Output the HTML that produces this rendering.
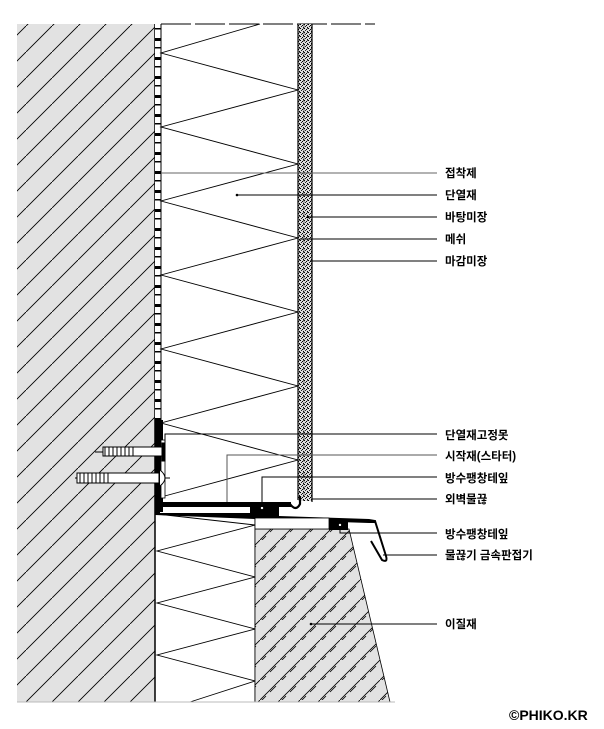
<!DOCTYPE html>
<html><head><meta charset="utf-8"><style>
html,body{margin:0;padding:0;background:#fff;width:604px;height:729px;overflow:hidden}
svg{display:block}
text{font-family:"Liberation Sans","Noto Sans CJK KR",sans-serif;font-size:11.5px;font-weight:bold;fill:#000}
</style></head><body>
<svg width="604" height="729" viewBox="0 0 604 729" xmlns="http://www.w3.org/2000/svg">
<defs>
<pattern id="wh" patternUnits="userSpaceOnUse" width="26" height="26">
<rect width="26" height="26" fill="#e2e2e2"/>
<path d="M-2,28 L28,-2" stroke="#000" stroke-width="0.9"/>
</pattern>
<pattern id="sh" patternUnits="userSpaceOnUse" width="20" height="20">
<rect width="20" height="20" fill="#e2e2e2"/>
<path d="M-2,22 L22,-2" stroke="#000" stroke-width="0.8"/>
<path d="M4,26 L10,20 M14,16 L20,10" stroke="#000" stroke-width="0.8" transform="translate(-4,-4)"/>
</pattern>
<pattern id="st" patternUnits="userSpaceOnUse" width="4" height="4">
<rect width="4" height="4" fill="#ddd"/>
<rect x="0" y="0" width="1" height="1" fill="#000"/><rect x="2" y="1" width="1" height="1" fill="#000"/>
<rect x="1" y="2" width="1" height="1" fill="#222"/><rect x="3" y="3" width="1" height="1" fill="#000"/>
<rect x="3" y="0" width="1" height="1" fill="#555"/>
</pattern>
<pattern id="ad" patternUnits="userSpaceOnUse" width="6" height="19">
<rect width="6" height="19" fill="#fff"/>
<rect x="0" y="0" width="6" height="3" fill="#000"/>
<rect x="0" y="9" width="6" height="1.5" fill="#000"/>
</pattern>
</defs>

<rect x="17" y="24" width="138" height="678" fill="url(#wh)"/>
<line x1="155" y1="24" x2="155" y2="702" stroke="#000" stroke-width="1.5"/>
<rect x="155" y="24" width="6" height="400" fill="url(#ad)"/>
<line x1="161" y1="24" x2="161" y2="500" stroke="#000" stroke-width="1"/>
<line x1="161" y1="24" x2="375" y2="24" stroke="#000" stroke-width="1" stroke-dasharray="30,4"/>
<polyline fill="none" stroke="#000" stroke-width="0.9" points="260,24 161,53 298,90 161,127 298,164 161,201 298,238 161,275 298,312 161,349 298,386 161,423 298,460 161,497"/>
<rect x="298" y="24" width="14" height="477" fill="url(#st)"/>
<line x1="298" y1="24" x2="298" y2="500" stroke="#000" stroke-width="1.2"/>
<line x1="312" y1="24" x2="312" y2="502" stroke="#000" stroke-width="1.2"/>
<line x1="304" y1="24" x2="304" y2="500" stroke="#333" stroke-width="0.6" stroke-dasharray="4,3"/>

<line x1="255" y1="516" x2="255" y2="702" stroke="#000" stroke-width="1"/>
<polyline fill="none" stroke="#000" stroke-width="0.9" points="157,514 255,525 157,551 255,577 157,603 255,629 157,655 255,681 190,702"/>
<polygon points="255,529 349,529 390,702 255,702" fill="url(#sh)" stroke="#000" stroke-width="0.8"/>
<line x1="17" y1="702" x2="395" y2="702" stroke="#bbb" stroke-width="1"/>

<rect x="155" y="420" width="8" height="92" fill="#000"/>
<rect x="161" y="440" width="4" height="58" fill="#fff" stroke="#000" stroke-width="0.8"/>
<rect x="155" y="502" width="136" height="5" fill="#000"/>
<path d="M290,504 Q296,512 300,504 L300,496" fill="none" stroke="#000" stroke-width="2.2"/>
<polygon points="155,506 160,506 160,513 250,513 250,502 279,502 279,516 369,519 375,520 375,523 369,523 279,520 155,515" fill="#000"/>
<rect x="255" y="518" width="74" height="11" fill="#fff" stroke="#000" stroke-width="0.8"/>
<rect x="329" y="520" width="19" height="10" fill="#000"/>
<path d="M369,521 L375,521 L386,556 Q388,563 382,560 L371,541" fill="none" stroke="#000" stroke-width="2"/>
<circle cx="262" cy="508" r="1.2" fill="#fff"/><circle cx="340" cy="525" r="1.2" fill="#fff"/>

<g stroke="#000" stroke-width="1" fill="#fff">
<line x1="95" y1="452" x2="165" y2="452"/>
<rect x="103" y="447" width="60" height="9"/>
<path d="M105,447 v9 M109,447 v9 M113,447 v9 M117,447 v9 M121,447 v9 M125,447 v9 M129,447 v9 M133,447 v9" />
<rect x="162" y="443" width="3" height="18" fill="#000"/>
<line x1="75" y1="478" x2="170" y2="478"/>
<rect x="77" y="473" width="82" height="10"/>
<path d="M80,473 v10 M84,473 v10 M88,473 v10 M92,473 v10 M96,473 v10 M100,473 v10 M104,473 v10 M108,473 v10" />
<path d="M160,470 q10,8 0,16" fill="#fff"/>
</g>

<g stroke="#000" stroke-width="1" fill="none">
<line x1="161" y1="173" x2="437" y2="173" stroke="#666"/>
<line x1="237" y1="195" x2="437" y2="195"/>
<line x1="308" y1="217" x2="437" y2="217"/>
<line x1="300" y1="239" x2="437" y2="239"/>
<line x1="310" y1="261" x2="437" y2="261"/>
<polyline points="165,452 165,434 437,434"/>
<polyline points="227,502 227,455 437,455" stroke="#555"/>
<polyline points="262,507 262,477 437,477"/>
<line x1="312" y1="499" x2="437" y2="499"/>
<polyline points="340,526 340,533 437,533"/>
<line x1="383" y1="555" x2="437" y2="555"/>
<line x1="311" y1="624" x2="437" y2="624"/>
</g>
<g fill="#000"><circle cx="237" cy="195" r="1.3"/><circle cx="308" cy="217" r="1.3"/><circle cx="311" cy="624" r="1.3"/></g>

<text x="445" y="177">접착제</text>
<text x="445" y="199">단열재</text>
<text x="445" y="221">바탕미장</text>
<text x="445" y="243">메쉬</text>
<text x="445" y="265">마감미장</text>
<text x="445" y="439">단열재고정못</text>
<text x="445" y="460">시작재(스타터)</text>
<text x="445" y="482">방수팽창테잎</text>
<text x="445" y="503">외벽물끊</text>
<text x="445" y="538">방수팽창테잎</text>
<text x="445" y="559">물끊기 금속판접기</text>
<text x="445" y="628">이질재</text>
<text x="509" y="720" style="font-size:14px">©PHIKO.KR</text>
</svg>
</body></html>
